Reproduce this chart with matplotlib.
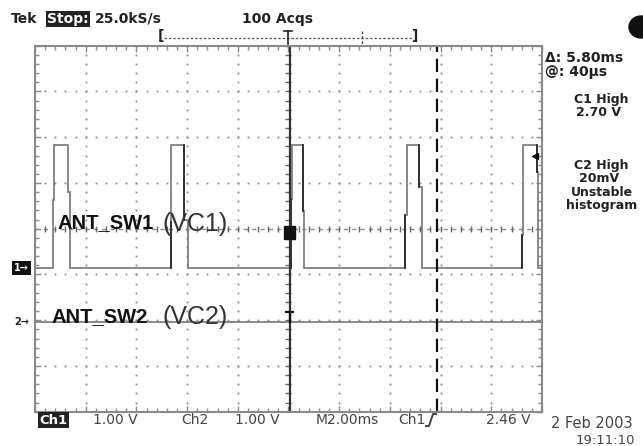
import matplotlib.pyplot as plt
import numpy as np
from matplotlib.patches import Rectangle, Ellipse
from matplotlib.lines import Line2D

# --- scope data (time in ms, volts) ---
high_level = 2.70
rise_a = [-9.28, -4.65, 0.10, 4.60, 9.20]
rise_b = [-9.24, -4.62, 0.13, 4.66, 9.26]
rise_step = [1.49, 1.00, 1.50, 1.16, 0.72]
fall_a = [-8.69, -4.11, 0.56, 5.16, 9.79]
fall_b = [-8.62, -3.98, 0.61, 5.25, 9.85]
fall_step = [1.67, 1.05, 1.25, 1.78, 2.10]
ch2_t = [-10, 10]
ch2_v = [0.02, 0.02]
cursor1 = 0.04
cursor2 = 5.84
trig_level = 2.46

ch1_offset = -0.86   # divisions
ch2_offset = -2.05
volts_per_div = 1.0

top_texts = ["Tek", "Stop:", "25.0kS/s", "100 Acqs"]
side_texts = ["\u0394: 5.80ms", "@: 40\u00b5s", "C1 High", "2.70 V",
              "C2 High", "20mV", "Unstable", "histogram"]
bottom_texts = ["Ch1", "1.00 V", "Ch2", "1.00 V", "M2.00ms", "Ch1", "2.46 V"]
date_texts = ["2 Feb 2003", "19:11:10"]

W, H = 643, 446
def fx(x):
    return x / W
def fy(y):
    return 1 - y / H

fig = plt.figure(figsize=(6.43, 4.46), dpi=100)
fig.patch.set_facecolor("white")
ax = fig.add_axes([fx(35), fy(411.7), 507 / W, 366 / H])
ax.set_xlim(-10, 10)
ax.set_ylim(-4, 4)

grid_c = "#8a8a8a"
for s in ax.spines.values():
    s.set_color(grid_c)
    s.set_linewidth(1.5)
ax.set_xticks(np.arange(-10, 10.1, 2))
ax.set_yticks(np.arange(-4, 4.1, 1))
ax.set_xticks(np.arange(-10, 10.1, 0.4), minor=True)
ax.set_yticks(np.arange(-4, 4.1, 0.2), minor=True)
ax.tick_params(which="both", direction="in", top=True, right=True,
               labelbottom=False, labelleft=False, color=grid_c, width=1)
ax.tick_params(which="major", length=4)
ax.tick_params(which="minor", length=3)

# dotted graticule
for gx in np.arange(-8, 9, 2):
    if gx == 0:
        continue
    ys = np.arange(-4, 4.01, 0.2)
    ax.plot(np.full_like(ys, gx), ys, ls="none", marker="s", ms=1.3,
            color=grid_c, mew=0)
for gy in np.arange(-3, 4, 1):
    if gy == 0:
        continue
    xs = np.arange(-10, 10.01, 0.4)
    ax.plot(xs, np.full_like(xs, gy), ls="none", marker="s", ms=1.3,
            color=grid_c, mew=0)

# center crosshair
ax.axhline(0, color=grid_c, lw=1, ls=(0, (3, 3)))
xs = np.arange(-10, 10.01, 0.4)
ax.plot(xs, np.zeros_like(xs), ls="none", marker="|", ms=5, color="#666", mew=1)
ys = np.arange(-4, 4.01, 0.2)
ax.plot(np.zeros_like(ys), ys, ls="none", marker="_", ms=5, color="#666", mew=1)

# channel 1 trace
t = [-10]
v = [0]
for i in range(len(rise_a)):
    t += [rise_a[i], rise_a[i], rise_b[i], rise_b[i],
          fall_a[i], fall_a[i], fall_b[i], fall_b[i]]
    v += [0, rise_step[i], rise_step[i], high_level,
          high_level, fall_step[i], fall_step[i], 0]
t.append(10)
v.append(0)
t = np.array(t)
v = np.array(v) / volts_per_div + ch1_offset
ax.plot(t, v, color="#808080", lw=1.3, solid_joinstyle="miter")
for i in range(1, len(rise_a)):
    ax.plot([rise_a[i], rise_a[i]],
            [ch1_offset, rise_step[i] / volts_per_div + ch1_offset],
            color="#222", lw=1.2)
    ax.plot([fall_a[i], fall_a[i]],
            [high_level / volts_per_div + ch1_offset,
             fall_step[i] / volts_per_div + ch1_offset],
            color="#222", lw=1.2)

# channel 2 trace
ax.plot(ch2_t, np.array(ch2_v) / volts_per_div + ch2_offset,
        color="#808080", lw=1.3)

# cursors
ax.axvline(cursor1, color="#333", lw=1.6)
ax.axvline(cursor2, color="#111", lw=1.6, ls=(0, (6, 3)))
ax.add_patch(Rectangle((cursor1 - 0.22, -0.22), 0.44, 0.28,
                       color="#111", zorder=5))
ax.plot([cursor1, cursor1], [ch2_offset, ch2_offset + 0.22],
        color="#111", lw=1.6)
ax.plot([cursor1 - 0.14, cursor1 + 0.14], [ch2_offset + 0.22] * 2,
        color="#111", lw=1.5)

# trigger level marker
ax.plot([9.72], [trig_level / volts_per_div + ch1_offset], marker="<",
        ms=5, color="#111")

# --- overlay labels ---
fig.text(fx(57), fy(228), "ANT_SW1", fontsize=14.5, weight="bold",
         family="Liberation Sans", va="baseline", color="#111")
fig.text(fx(163), fy(231), "(VC1)", fontsize=18, family="Liberation Sans",
         va="baseline", color="#333")
fig.text(fx(52), fy(322), "ANT_SW2", fontsize=14.5, weight="bold",
         family="Liberation Sans", va="baseline", color="#111")
fig.text(fx(163), fy(324), "(VC2)", fontsize=18, family="Liberation Sans",
         va="baseline", color="#333")

# left channel markers
fig.text(fx(14), fy(268), "1\u2192", fontsize=7, weight="bold", color="white",
         va="center", bbox=dict(fc="#111", ec="none", pad=1.2))
fig.text(fx(14), fy(322), "2\u2192", fontsize=7, weight="bold", color="#222",
         va="center")

# --- top status line ---
tc = "#222"
fig.text(fx(11), fy(19), top_texts[0], fontsize=10, weight="bold",
         va="center", color=tc)
fig.text(fx(47), fy(19), top_texts[1], fontsize=10, weight="bold",
         va="center", color="white", bbox=dict(fc="#222", ec="none", pad=1))
fig.text(fx(95), fy(19), top_texts[2], fontsize=10, weight="bold",
         va="center", color=tc)
fig.text(fx(242), fy(19), top_texts[3], fontsize=10, weight="bold",
         va="center", color=tc)

# record-length bracket
fig.text(fx(158), fy(36), "[", fontsize=10, weight="bold", va="center", color=tc)
fig.text(fx(412), fy(36), "]", fontsize=10, weight="bold", va="center", color=tc)
fig.add_artist(Line2D([fx(164), fx(412)], [fy(38), fy(38)], color="#555",
                      lw=0.9, ls=(0, (2, 1.5))))
fig.add_artist(Line2D([fx(288), fx(288)], [fy(31), fy(44)], color="#222", lw=1.2))
fig.add_artist(Line2D([fx(284), fx(292)], [fy(31), fy(31)], color="#222", lw=1.2))
fig.add_artist(Line2D([fx(362), fx(362)], [fy(31), fy(44)], color="#444",
                      lw=1, ls=(0, (2, 1.5))))

fig.add_artist(Ellipse((fx(641), fy(27)), 24 / W, 22 / H, color="#111"))

# --- right readouts ---
fig.text(fx(545), fy(58), side_texts[0], fontsize=10, weight="bold",
         va="center", color=tc)
fig.text(fx(545), fy(72), side_texts[1], fontsize=10, weight="bold",
         va="center", color=tc)
side_pos = [(601, 100), (599, 113), (601, 166), (599, 179), (602, 192),
            (602, 205)]
for s, (x, y) in zip(side_texts[2:], side_pos):
    fig.text(fx(x), fy(y), s, fontsize=9, weight="bold", ha="center",
             va="center", color=tc)

# --- bottom readouts ---
bc = "#444"
fig.text(fx(39), fy(420), bottom_texts[0], fontsize=9.5, weight="bold",
         va="center", color="white", bbox=dict(fc="#222", ec="none", pad=1))
bottom_x = [93, 181, 235, 316, 398, 486]
for s, x in zip(bottom_texts[1:], bottom_x):
    fig.text(fx(x), fy(420), s, fontsize=10, va="center", color=bc)
fig.add_artist(Line2D([fx(426), fx(429), fx(433), fx(436)],
                      [fy(426), fy(426), fy(414), fy(414)], color=bc, lw=1.4))
fig.text(fx(551), fy(424), date_texts[0], fontsize=10.5, va="center", color=bc)
fig.text(fx(576), fy(441), date_texts[1], fontsize=9.5, va="center", color=bc)

fig.savefig("out.png", dpi=100, facecolor="white")
